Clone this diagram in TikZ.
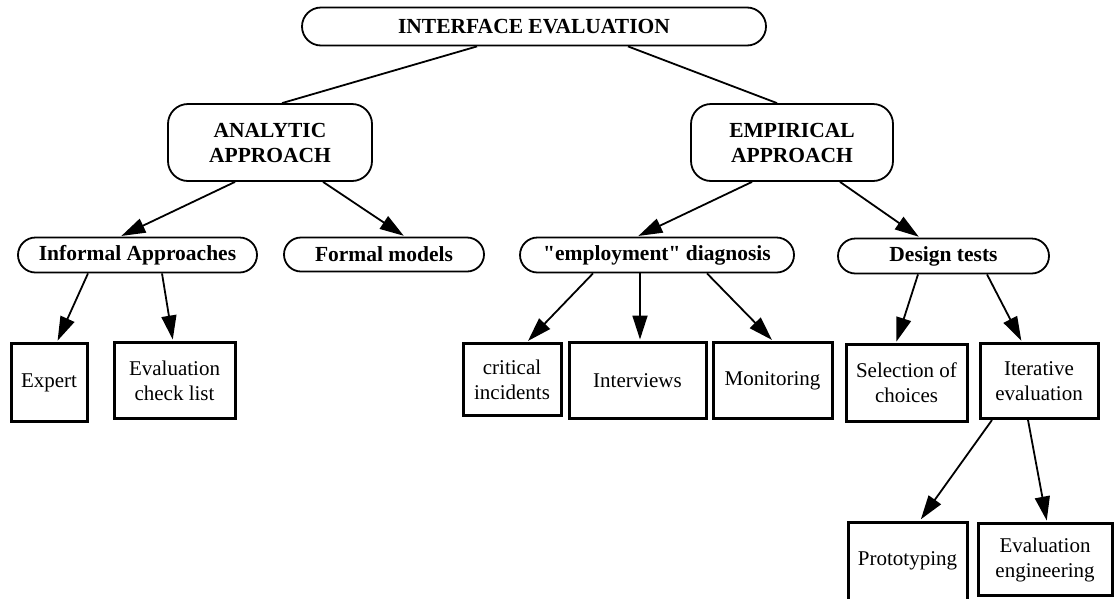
\documentclass[tikz,border=0pt]{standalone}
\usepackage{fontspec}
\setmainfont{Liberation Serif}
\usetikzlibrary{arrows.meta,calc}
\begin{document}
\begin{tikzpicture}[x=1pt,y=-1pt,
  every node/.style={font=\fontsize{21}{25}\selectfont, align=center, inner sep=1pt},
  pill/.style={draw, line width=1.8pt, rounded corners=#1, font=\fontsize{21.5}{25}\selectfont\bfseries},
  boxst/.style={draw, line width=3pt},
  link/.style={line width=1.8pt},
  conn/.style={line width=1.8pt, -{Triangle[length=24pt,width=15pt]}, shorten >=1.5pt}
]
\useasboundingbox (0,0) rectangle (1114,598);
\clip (0,0) rectangle (1114,598);
\fill[white] (0,0) rectangle (1114,598);

% rounded nodes
\node[pill=19pt, minimum width=464pt, minimum height=38pt] (top) at (534,26.5) {INTERFACE EVALUATION};
\node[pill=20pt, minimum width=204pt, minimum height=77pt] (analytic) at (270,142.5) {ANALYTIC\\APPROACH};
\node[pill=20pt, minimum width=202pt, minimum height=77pt] (empirical) at (792,142.5) {EMPIRICAL\\APPROACH};
\node[pill=17.5pt, minimum width=239pt, minimum height=35pt] (informal) at (137.5,255) {Informal Approaches};
\node[pill=17pt, minimum width=200pt, minimum height=34pt] (formal) at (384,254.5) {Formal models};
\node[pill=17.5pt, minimum width=274pt, minimum height=35pt] (employment) at (657,255) {\addfontfeatures{Ligatures=TeXOff}"employment" diagnosis};
\node[pill=17.5pt, minimum width=211pt, minimum height=35pt] (design) at (943.5,256) {Design tests};

% boxes
\node[boxst, minimum width=76pt, minimum height=78pt] (expert) at (49,382.5) {Expert};
\node[boxst, minimum width=121pt, minimum height=76pt] (evalcheck) at (174.5,380.5) {Evaluation\\check list};
\node[boxst, minimum width=98pt, minimum height=72pt] (critical) at (512,379.5) {critical\\incidents};
\node[boxst, minimum width=137pt, minimum height=76pt] (interviews) at (637.5,380.5) {Interviews};
\node[boxst, minimum width=119pt, minimum height=76pt] (monitoring) at (772.5,380.5) {Monitoring};
\node[boxst, minimum width=121pt, minimum height=77pt] (selection) at (906.5,383) {Selection of\\choices};
\node[boxst, minimum width=118pt, minimum height=75pt] (iterative) at (1039,381) {Iterative\\evaluation};
\node[boxst, minimum width=119pt, minimum height=78pt] (prototyping) at (907.5,561) {Prototyping};
\node[boxst, minimum width=134pt, minimum height=72pt] (evaleng) at (1045,559.5) {Evaluation\\engineering};

% connectors
\draw[link] ($(top.south)+(-57,0)$) -- ($(analytic.north)+(12,0)$);
\draw[link] ($(top.south)+(94,0)$) -- ($(empirical.north)+(-15,0)$);

\draw[conn] ($(analytic.south)+(-35,0)$) -- ($(informal.north)+(-17.5,0)$);
\draw[conn] ($(analytic.south)+(53,0)$) -- ($(formal.north)+(21,0)$);
\draw[conn] ($(empirical.south)+(-40,0)$) -- ($(employment.north)+(-20,0)$);
\draw[conn] ($(empirical.south)+(48,0)$) -- ($(design.north)+(-23.5,0)$);

\draw[conn] ($(informal.south)+(-49.5,0)$) -- ($(expert.north)+(8,0)$);
\draw[conn] ($(informal.south)+(24.5,0)$) -- ($(evalcheck.north)+(-1.5,0)$);

\draw[conn] ($(employment.south)+(-64,0)$) -- ($(critical.north)+(15,0)$);
\draw[conn] ($(employment.south)+(-17,0)$) -- ($(interviews.north)+(2.5,0)$);
\draw[conn] ($(employment.south)+(50,0)$) -- ($(monitoring.north)+(0.5,0)$);

\draw[conn] ($(design.south)+(-25.5,0)$) -- ($(selection.north)+(-10.5,0)$);
\draw[conn] ($(design.south)+(43.5,0)$) -- ($(iterative.north)+(-17,0)$);

\draw[conn] ($(iterative.south)+(-47,0)$) -- ($(prototyping.north)+(12.5,0)$);
\draw[conn] ($(iterative.south)+(-11,0)$) -- ($(evaleng.north)+(2,0)$);
\end{tikzpicture}
\end{document}
